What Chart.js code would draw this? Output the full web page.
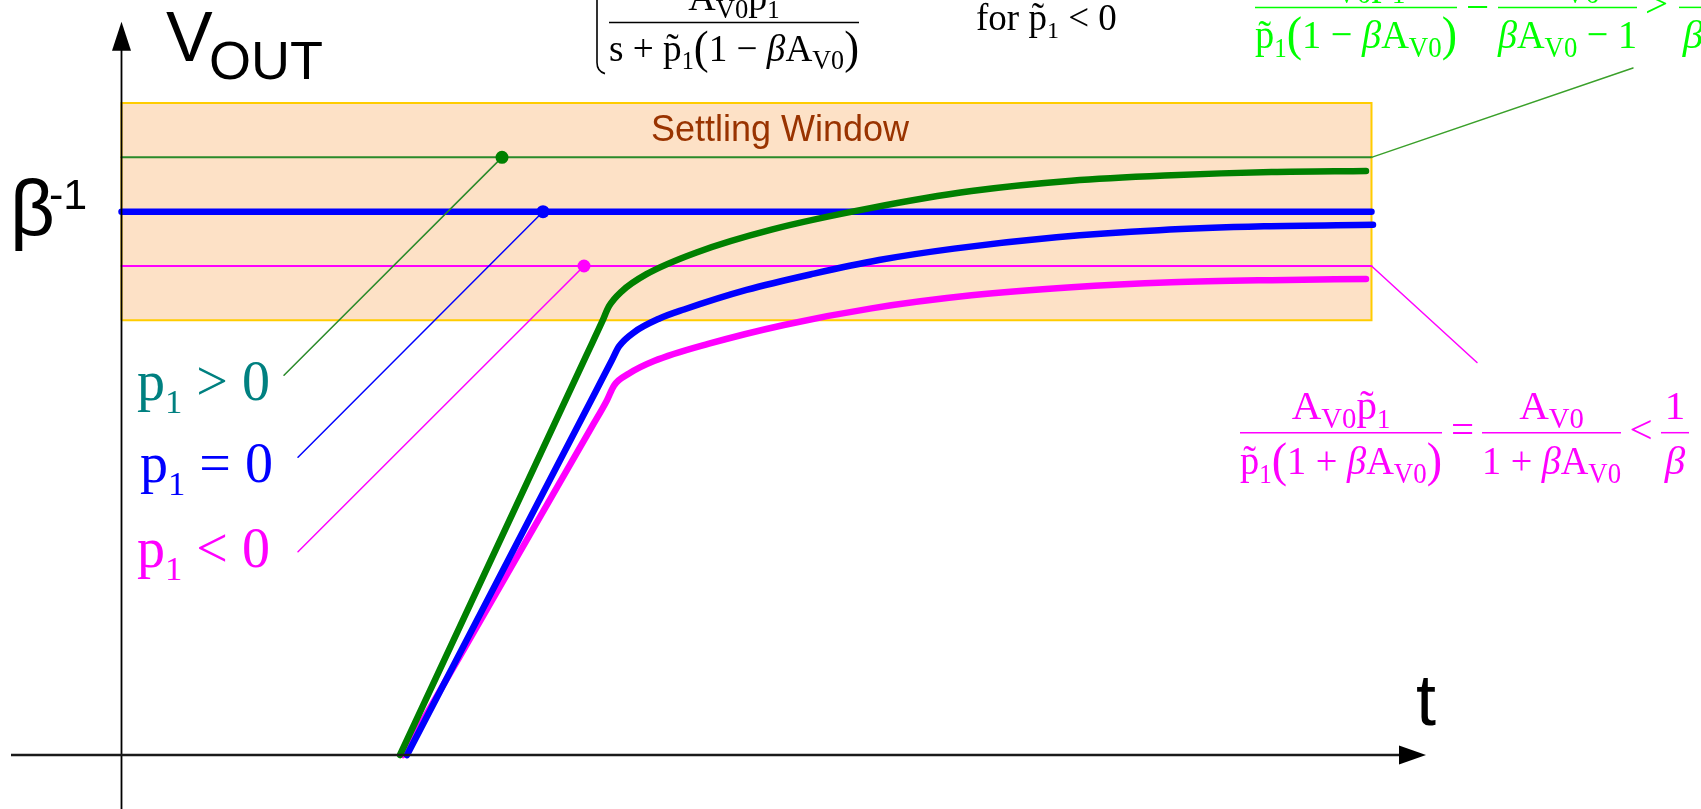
<!DOCTYPE html>
<html>
<head>
<meta charset="utf-8">
<script src="https://cdn.jsdelivr.net/npm/chart.js@4.4.1/dist/chart.umd.min.js"></script>
<style>
  html, body { margin: 0; padding: 0; background: #fff; overflow: hidden; }
  #wrap { width: 1701px; height: 809px; position: relative; }
</style>
</head>
<body>
<div id="wrap"><canvas id="c"></canvas></div>
<script>
// step response of the output, time in arbitrary units, output normalised so 1/beta = 1
// each curve: straight slew ramp, knee, then slow settling tail
const tGreen = [1.114, 1.86, 1.922, 1.95, 2.0, 2.1, 2.3, 2.6, 3.0, 3.4, 3.8, 4.2, 4.6, 4.978];
const vGreen = [0, 0.736, 0.797, 0.826, 0.853, 0.885, 0.925, 0.967, 1.007, 1.038, 1.057, 1.067, 1.073, 1.075];

const tBlue = [1.142, 1.90, 1.962, 1.99, 2.05, 2.15, 2.25, 2.5, 2.77, 3.03, 3.33, 3.74, 4.15, 4.57, 5.006];
const vBlue = [0, 0.672, 0.727, 0.752, 0.778, 0.803, 0.820, 0.856, 0.886, 0.911, 0.932, 0.953, 0.966, 0.973, 0.976];

const tMag = [1.126, 1.88, 1.942, 1.97, 2.03, 2.13, 2.35, 2.65, 3.0, 3.4, 3.8, 4.2, 4.6, 4.978];
const vMag = [0, 0.603, 0.653, 0.680, 0.702, 0.725, 0.757, 0.7915, 0.822, 0.846, 0.861, 0.870, 0.874, 0.876];

// levels
const target = 1.0;          // 1/beta
const levelHigh = 1.1;       // final value for p1 > 0
const levelLow = 0.9;        // final value for p1 < 0
const windowLow = 0.8, windowHigh = 1.2;
const tEnd = 5.0;

// marker dots on the reference levels and the label leaders
const dotT = [1.522, 1.686, 1.85];
const dotV = [levelHigh, target, levelLow];
const leadEndT = [0.65, 0.706, 0.706];
const leadEndV = [0.699, 0.548, 0.374];
const rightLeadT = [6.046, 5.422];
const rightLeadV = [1.2645, 0.7225];

// view range
const xMin = -0.486, xMax = 6.318;
const yMin = -0.0994, yMax = 1.3896;
const xAxisFrom = -0.442, xAxisTip = 5.218;
const yAxisTip = 1.3497;

const GREEN = '#008000', BLUE = '#0000ff', MAG = '#ff00ff';
const THIN_GREEN = '#2a8a2a';
const SERIF = '"Liberation Serif", "Times New Roman", serif';
const SANS = '"Liberation Sans", Arial, sans-serif';

function pts(ts, vs) { return ts.map((t, i) => ({ x: t, y: vs[i] })); }
function seg(t0, v0, t1, v1) { return [{ x: t0, y: v0 }, { x: t1, y: v1 }]; }

function lineSet(data, color, width, order) {
  return {
    data, borderColor: color, borderWidth: width, pointRadius: 0, fill: false,
    tension: 0, order, borderCapStyle: 'round', borderJoinStyle: 'round'
  };
}
function curveSet(data, color, order) {
  return Object.assign(lineSet(data, color, 6.5, order), { cubicInterpolationMode: 'monotone' });
}

const datasets = [
  {
    data: [{x: 0, y: windowLow}, {x: tEnd, y: windowLow}, {x: tEnd, y: windowHigh}, {x: 0, y: windowHigh}, {x: 0, y: windowLow}],
    borderColor: '#ffcc00', borderWidth: 2, backgroundColor: 'rgb(253,225,198)',
    fill: 'shape', pointRadius: 0, tension: 0, order: 20
  },
  lineSet(seg(0, levelHigh, tEnd, levelHigh), THIN_GREEN, 2, 15),
  lineSet(seg(0, levelLow, tEnd, levelLow), MAG, 2, 15),
  curveSet(pts(tMag, vMag), MAG, 9),
  curveSet(pts(tBlue, vBlue), BLUE, 8),
  lineSet(seg(0, target, tEnd, target), BLUE, 6.5, 7),
  curveSet(pts(tGreen, vGreen), GREEN, 6),
  lineSet(seg(dotT[0], dotV[0], leadEndT[0], leadEndV[0]), THIN_GREEN, 1.5, 3),
  lineSet(seg(dotT[1], dotV[1], leadEndT[1], leadEndV[1]), BLUE, 1.5, 3),
  lineSet(seg(dotT[2], dotV[2], leadEndT[2], leadEndV[2]), MAG, 1.5, 3),
  lineSet(seg(tEnd, levelHigh, rightLeadT[0], rightLeadV[0]), '#3aa02a', 1.5, 3),
  lineSet(seg(tEnd, levelLow, rightLeadT[1], rightLeadV[1]), MAG, 1.5, 3),
  {
    data: pts(dotT, dotV), showLine: false, pointRadius: 6.5, pointBorderWidth: 0,
    pointBackgroundColor: [GREEN, BLUE, MAG], pointBorderColor: [GREEN, BLUE, MAG], order: 2
  }
];

// text runs: [text, size factor, baseline shift (em), italic]
function runFont(size, r) { return (r[3] ? 'italic ' : '') + (size * (r[1] || 1)) + 'px ' + SERIF; }
function runsWidth(ctx, runs, size) {
  let w = 0;
  runs.forEach(r => { ctx.font = runFont(size, r); w += ctx.measureText(r[0]).width; });
  return w;
}
function drawRuns(ctx, runs, x, y, size, scaleX) {
  ctx.save();
  ctx.translate(x, y);
  ctx.scale(scaleX || 1, 1);
  let cx = 0;
  runs.forEach(r => {
    ctx.font = runFont(size, r);
    ctx.fillText(r[0], cx, size * (r[2] || 0));
    cx += ctx.measureText(r[0]).width;
  });
  ctx.restore();
}
function frac(ctx, xl, xr, yb, num, den, size) {
  ctx.beginPath();
  ctx.moveTo(xl, yb); ctx.lineTo(xr, yb);
  ctx.lineWidth = 1.5; ctx.stroke();
  const wn = runsWidth(ctx, num, size);
  drawRuns(ctx, num, (xl + xr) / 2 - wn / 2, yb - 0.33 * size, size, 1);
  const wd = runsWidth(ctx, den, size);
  const k = den.length > 2 ? (xr - xl) / wd : 1;
  drawRuns(ctx, den, (xl + xr) / 2 - wd * k / 2, yb + 1.0 * size, size, k);
}
function op(ctx, s, xc, yb, size) {
  ctx.font = size + 'px ' + SERIF;
  ctx.textAlign = 'center';
  ctx.fillText(s, xc, yb + 0.24 * size);
  ctx.textAlign = 'left';
}

const PT = 'p\u0303';
const SUB1 = ['1', 0.65, 0.22];
const SUBV0 = ['V0', 0.7, 0.22];
const BETA = ['\u03b2', 1, 0, true];
const LP = ['(', 1.2, 0.05], RP = [')', 1.2, 0.05];

const annotate = {
  id: 'annotate',
  afterDatasetsDraw(chart) {
    const ctx = chart.ctx;
    const X = v => chart.scales.x.getPixelForValue(v);
    const Y = v => chart.scales.y.getPixelForValue(v);
    ctx.save();
    ctx.textBaseline = 'alphabetic';
    ctx.textAlign = 'left';

    // axes
    const x0 = X(0), y0 = Y(0);
    ctx.strokeStyle = '#000'; ctx.fillStyle = '#000';
    ctx.lineWidth = 1.8;
    ctx.beginPath(); ctx.moveTo(x0, Y(yMin)); ctx.lineTo(x0, Y(yAxisTip) + 26); ctx.stroke();
    ctx.beginPath(); ctx.moveTo(x0, Y(yAxisTip)); ctx.lineTo(x0 - 9.5, Y(yAxisTip) + 29); ctx.lineTo(x0 + 9.5, Y(yAxisTip) + 29); ctx.closePath(); ctx.fill();
    ctx.strokeStyle = '#1a1a1a'; ctx.lineWidth = 2.6;
    ctx.beginPath(); ctx.moveTo(X(xAxisFrom), y0); ctx.lineTo(X(xAxisTip) - 25, y0); ctx.stroke();
    ctx.beginPath(); ctx.moveTo(X(xAxisTip), y0); ctx.lineTo(X(xAxisTip) - 27, y0 - 9.5); ctx.lineTo(X(xAxisTip) - 27, y0 + 9.5); ctx.closePath(); ctx.fill();

    // axis titles
    ctx.fillStyle = '#000';
    ctx.font = '70px ' + SANS; ctx.fillText('V', X(0.178), Y(1.2774));
    ctx.font = '54px ' + SANS; ctx.fillText('OUT', X(0.35), Y(1.2443));
    ctx.font = '78px ' + SANS; ctx.fillText('\u03b2', X(-0.446), Y(0.957));
    ctx.font = '43px ' + SANS; ctx.fillText('-1', X(-0.29), Y(1.005));
    ctx.font = '72px ' + SANS; ctx.fillText('t', X(5.178), Y(0.0552));

    // settling window caption
    ctx.fillStyle = '#993300';
    ctx.font = '36px ' + SANS; ctx.textAlign = 'center';
    ctx.fillText('Settling Window', X(2.634), Y(1.13));
    ctx.textAlign = 'left';

    // left labels
    const lab = 56;
    ctx.fillStyle = '#008080';
    drawRuns(ctx, [['p'], ['1', 0.62, 0.23], [' > 0']], X(0.062), Y(0.6535), lab);
    ctx.fillStyle = BLUE;
    drawRuns(ctx, [['p'], ['1', 0.62, 0.23], [' = 0']], X(0.074), Y(0.5025), lab);
    ctx.fillStyle = MAG;
    drawRuns(ctx, [['p'], ['1', 0.62, 0.23], [' < 0']], X(0.062), Y(0.346), lab);

    // black transfer function at the top
    ctx.fillStyle = '#000'; ctx.strokeStyle = '#000';
    const bx = X(1.902), by = Y(1.348);
    ctx.lineWidth = 1.6;
    ctx.beginPath(); ctx.moveTo(bx, 0); ctx.lineTo(bx, by + 40); ctx.quadraticCurveTo(bx, by + 49, bx + 8, by + 51); ctx.stroke();
    frac(ctx, X(1.95), X(2.95), by,
      [['A'], SUBV0, [PT], SUB1],
      [['s'], [' + '], [PT], SUB1, LP, ['1'], [' \u2212 '], BETA, ['A'], SUBV0, RP], 38);
    drawRuns(ctx, [['for '], [PT], SUB1, [' < 0']], X(3.418), Y(1.3345), 37);

    // green final value formula (top right)
    const gs = 41, gy = Y(1.376);
    ctx.fillStyle = '#00ff00'; ctx.strokeStyle = '#00ff00';
    frac(ctx, X(4.534), X(5.342), gy,
      [['A'], SUBV0, [PT], SUB1],
      [[PT], SUB1, LP, ['1'], [' \u2212 '], BETA, ['A'], SUBV0, RP], gs);
    op(ctx, '=', X(5.424), gy, gs);
    frac(ctx, X(5.506), X(6.062), gy, [['A'], SUBV0], [BETA, ['A'], SUBV0, [' \u2212 1']], gs);
    op(ctx, '>', X(6.14), gy, gs);
    frac(ctx, X(6.23), X(6.342), gy, [['1']], [BETA], gs);

    // magenta final value formula
    const my = Y(0.5932);
    ctx.fillStyle = MAG; ctx.strokeStyle = MAG;
    frac(ctx, X(4.474), X(5.282), my,
      [['A'], SUBV0, [PT], SUB1],
      [[PT], SUB1, LP, ['1'], [' + '], BETA, ['A'], SUBV0, RP], gs);
    op(ctx, '=', X(5.364), my, gs);
    frac(ctx, X(5.442), X(5.998), my, [['A'], SUBV0], [['1'], [' + '], BETA, ['A'], SUBV0], gs);
    op(ctx, '<', X(6.078), my, gs);
    frac(ctx, X(6.158), X(6.27), my, [['1']], [BETA], gs);

    ctx.restore();
  }
};

new Chart(document.getElementById('c'), {
  type: 'line',
  data: { datasets },
  options: {
    responsive: true,
    maintainAspectRatio: false,
    animation: false,
    layout: { padding: 0, autoPadding: false },
    plugins: { legend: { display: false }, tooltip: { enabled: false } },
    scales: {
      x: { type: 'linear', display: false, min: xMin, max: xMax },
      y: { type: 'linear', display: false, min: yMin, max: yMax }
    }
  },
  plugins: [annotate]
});
</script>
</body>
</html>
